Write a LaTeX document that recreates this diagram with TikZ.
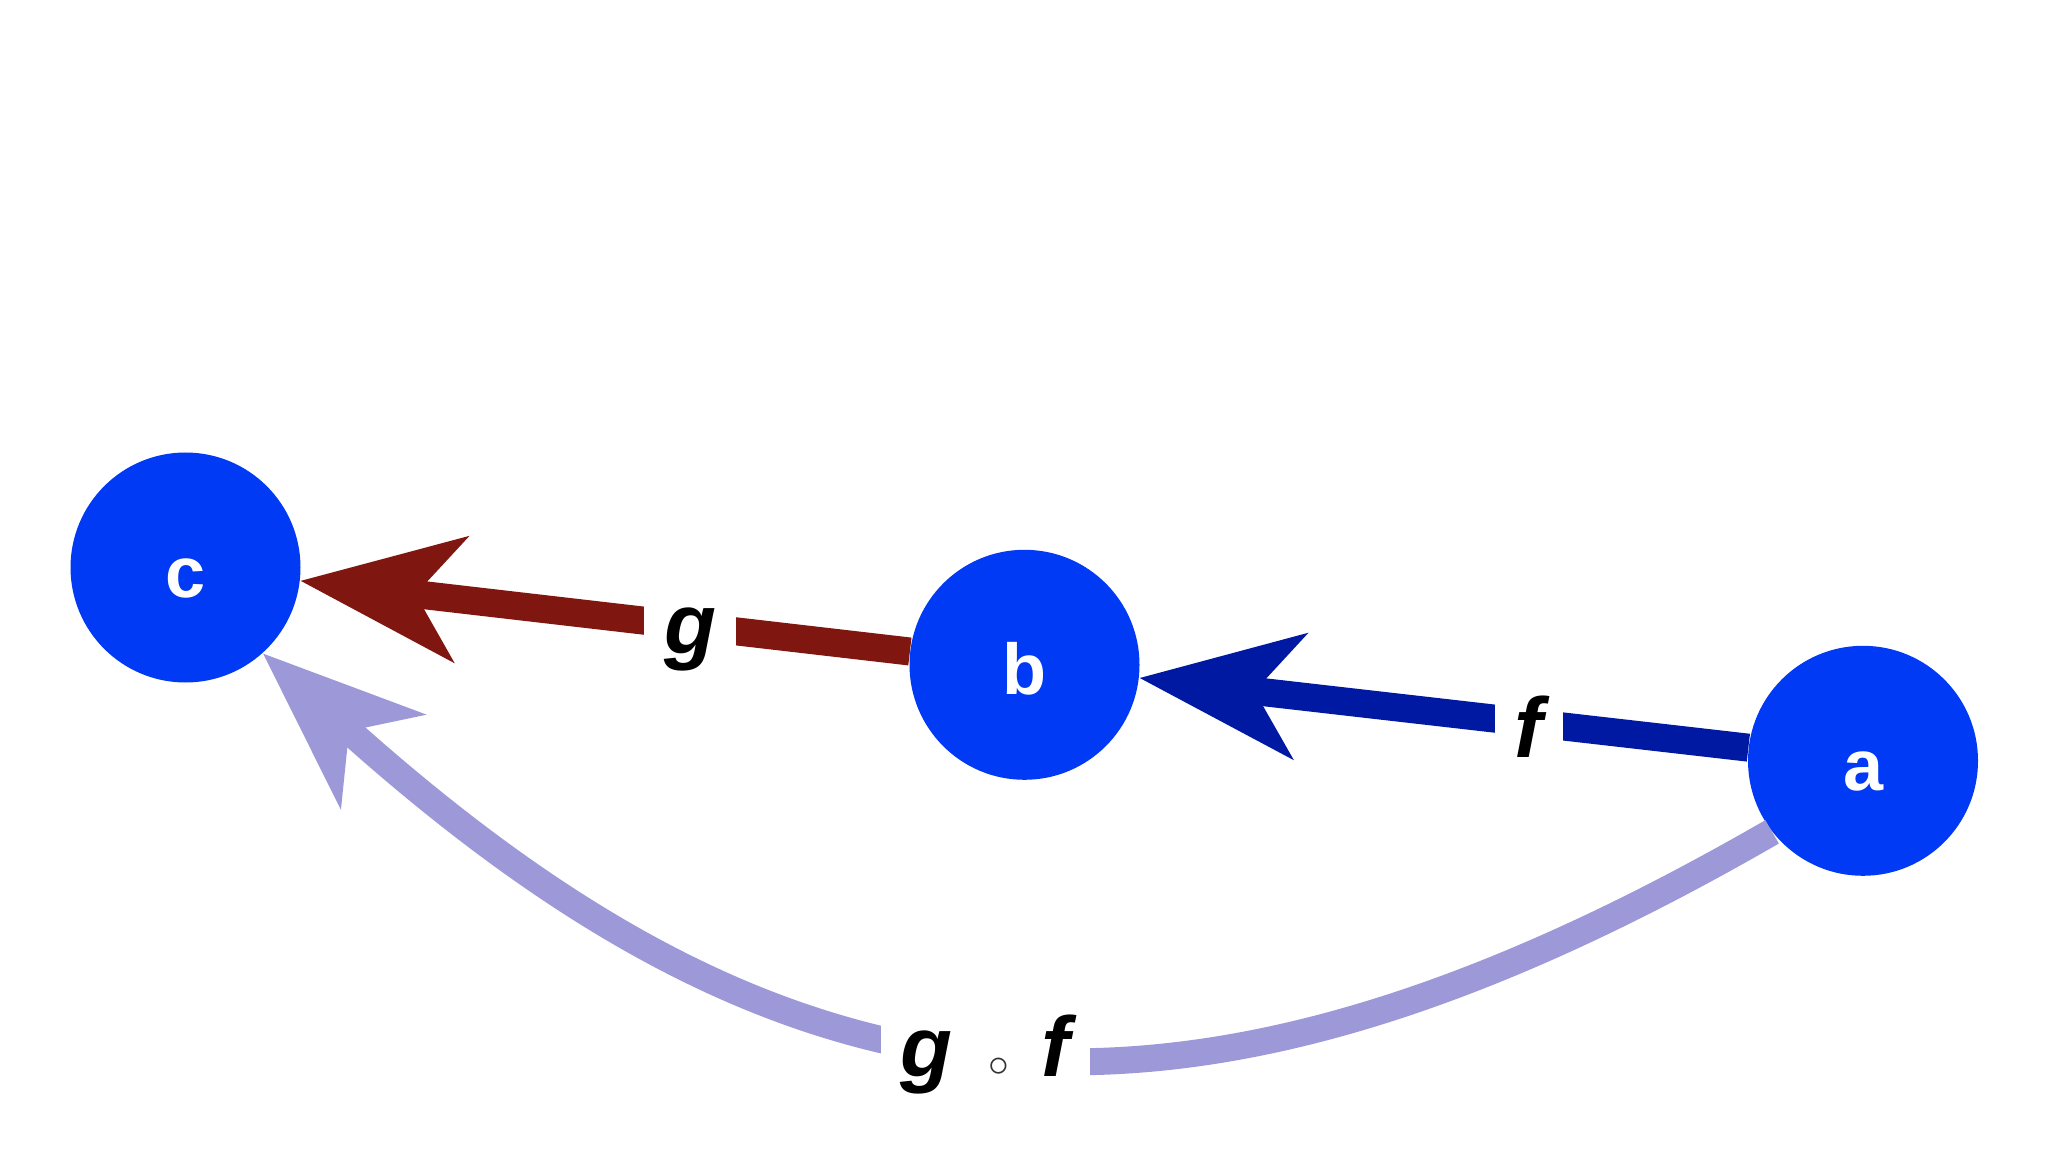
\documentclass[tikz,border=0pt]{standalone}
\usepackage{fontspec}
\newfontfamily\heros{Liberation Sans}
\usetikzlibrary{arrows.meta}
\definecolor{nodeblue}{RGB}{0,58,245}
\definecolor{gred}{RGB}{128,22,16}
\definecolor{fblue}{RGB}{0,25,162}
\definecolor{gfpurple}{RGB}{157,153,217}
\begin{document}
\begin{tikzpicture}[x=0.5pt,y=0.5pt,
  vert/.style={circle, fill=nodeblue, minimum size=115pt, inner sep=0pt, text=white,
    font=\heros\bfseries\fontsize{36}{36}\selectfont, text height=30pt, text depth=0pt},
  mor/.style={line width=14pt, -{Stealth[length=80pt,width=62pt,inset=22pt]}},
  lab/.style={fill=white, inner xsep=10pt, inner ysep=8pt, text=black,
    font=\heros\bfseries\itshape\fontsize{42.5}{42.5}\selectfont,
    text height=30.6pt, text depth=9.4pt}]
\fill[white] (0,0) rectangle (2048,1152);
\useasboundingbox (0,0) rectangle (2048,1152);
\node[vert] (c) at (185.5,584.5) {c};
\node[vert] (b) at (1024.5,487.2) {b};
\node[vert] (a) at (1863,391.2) {a};
\draw[mor, gfpurple, line width=13.5pt] (a.218) to[out=210, in=318, looseness=1.18]
  node[lab, pos=0.5, yshift=-3pt] (lgf) {g\hspace{18pt}{\color{black!80}\fontsize{20}{20}\selectfont$\circ$}\hspace{16pt}f} (c.312);
\draw[mor, gred] (b) -- node[lab, pos=0.36, yshift=-3pt] (lg) {g} (c);
\draw[mor, fblue] (a) -- node[lab, pos=0.36, yshift=-7pt] (lf) {f} (b);
\end{tikzpicture}
\end{document}
